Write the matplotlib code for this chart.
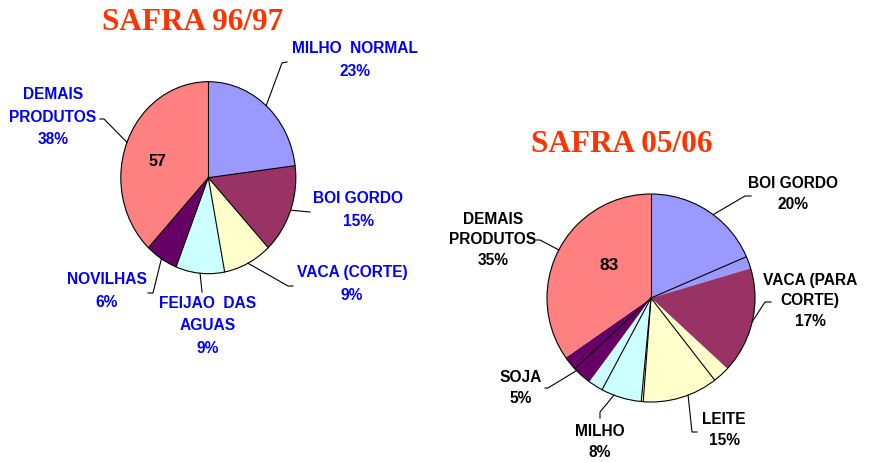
import numpy as np
import matplotlib.pyplot as plt
from matplotlib.patches import Ellipse

W, H = 877, 462

# ---- data ----
palette = ['#9999FF', '#993366', '#FFFFCC', '#CCFFFF', '#660066', '#FF8080']

left_title = 'SAFRA 96/97'
left_values = [23, 15, 9, 9, 6, 38]
left_groups = [0, 1, 2, 3, 4, 5]
left_edges = [True, True, True, True, True, True]
left_labels = ['MILHO  NORMAL\n23%', 'BOI GORDO\n15%', 'VACA (CORTE)\n9%',
               'FEIJAO  DAS\nAGUAS\n9%', 'NOVILHAS\n6%', 'DEMAIS\nPRODUTOS\n38%']
left_total = '57'

right_title = 'SAFRA 05/06'
right_values = [18.5, 1.9, 16.5, 2.6, 11.7, 0.3, 6.3, 2.3, 3.0, 2.2, 34.7]
right_groups = [0, 0, 1, 2, 2, 2, 3, 3, 4, 4, 5]
right_edges = [True, True, False, False, True, True, True, True, False, True, False]
right_labels = ['BOI GORDO\n20%', 'VACA (PARA\nCORTE)\n17%', 'LEITE\n15%',
                'MILHO\n8%', 'SOJA\n5%', 'DEMAIS\nPRODUTOS\n35%']
right_total = '83'

# ---- layout (pixels) ----
left_pie = dict(cx=208.3, cy=177.7, rx=87.5, ry=96)
right_pie = dict(cx=651, cy=298, rx=104, ry=104)

left_text_pos = [(355, 60), (358, 210), (352, 284), (208, 326), (107, 291), (53, 117)]
left_elbow = [(282, 63), (310, 212), (288, 286), (202, 292), (153, 293), (104, 119)]
left_end = [(287, 62), (310, 212), (293, 286), (202, 292), (148, 293), (100, 119)]

right_text_pos = [(793, 194), (810, 301), (724, 430), (600, 442), (521, 388), (493, 240)]
right_elbow = [(745, 196), (765, 302), (692, 432), (600, 412), (548, 388), (540, 240)]
right_end = [(751, 196), (771, 302), (697, 432), (600, 418), (545, 388), (536, 240)]

fig = plt.figure(figsize=(W / 100, H / 100), dpi=100)
overlay = fig.add_axes([0, 0, 1, 1], zorder=5)
overlay.set_xlim(0, W)
overlay.set_ylim(H, 0)
overlay.axis('off')
overlay.patch.set_alpha(0)

pad = 1.04


def draw_pie(geo, values, groups, edges, labels, text_pos, elbow, end,
             total, total_pos, text_color, linesp, total_size):
    cx, cy, rx, ry = geo['cx'], geo['cy'], geo['rx'], geo['ry']
    ax = fig.add_axes([(cx - rx * pad) / W, (H - cy - ry * pad) / H,
                       2 * rx * pad / W, 2 * ry * pad / H])
    colors = [palette[g] for g in groups]
    ax.pie(values, colors=colors, startangle=90, counterclock=False,
           wedgeprops=dict(linewidth=0))
    ax.set_aspect('auto')
    ax.set_xlim(-pad, pad)
    ax.set_ylim(-pad, pad)
    ax.axis('off')
    # outline and separators
    ax.add_patch(Ellipse((0, 0), 2, 2, fill=False, edgecolor='black', linewidth=0.8))
    frac = np.cumsum([0] + list(values)) / np.sum(values)
    for i, e in enumerate(edges):
        if e:
            a = 2 * np.pi * frac[i]
            ax.plot([0, np.sin(a)], [0, np.cos(a)], color='black', linewidth=0.8)
    # group labels with leader lines
    ngroups = max(groups) + 1
    for g in range(ngroups):
        idx = [i for i, gg in enumerate(groups) if gg == g]
        mid = (frac[idx[0]] + frac[idx[-1] + 1]) / 2 * 2 * np.pi
        sx, sy = cx + rx * np.sin(mid), cy - ry * np.cos(mid)
        overlay.plot([sx, elbow[g][0], end[g][0]], [sy, elbow[g][1], end[g][1]],
                     color='black', linewidth=0.8)
        overlay.text(text_pos[g][0], text_pos[g][1], labels[g], ha='center', va='center',
                     color=text_color, fontsize=11.2, fontweight='bold',
                     family='Liberation Sans', linespacing=linesp)
    overlay.text(total_pos[0], total_pos[1], total, ha='center', va='center',
                 fontsize=total_size, fontweight='bold', family='Liberation Sans')


draw_pie(left_pie, left_values, left_groups, left_edges, left_labels, left_text_pos,
         left_elbow, left_end, left_total, (157, 162), '#0000FF', 1.6, 11.5)
draw_pie(right_pie, right_values, right_groups, right_edges, right_labels, right_text_pos,
         right_elbow, right_end, right_total, (609, 266), 'black', 1.42, 12.5)

overlay.text(193, 22, left_title, ha='center', va='center', color='#FF3300',
             fontsize=22.5, fontweight='bold', family='Liberation Serif')
overlay.text(622, 144, right_title, ha='center', va='center', color='#FF3300',
             fontsize=22.5, fontweight='bold', family='Liberation Serif')

fig.savefig('out.png', dpi=100)
